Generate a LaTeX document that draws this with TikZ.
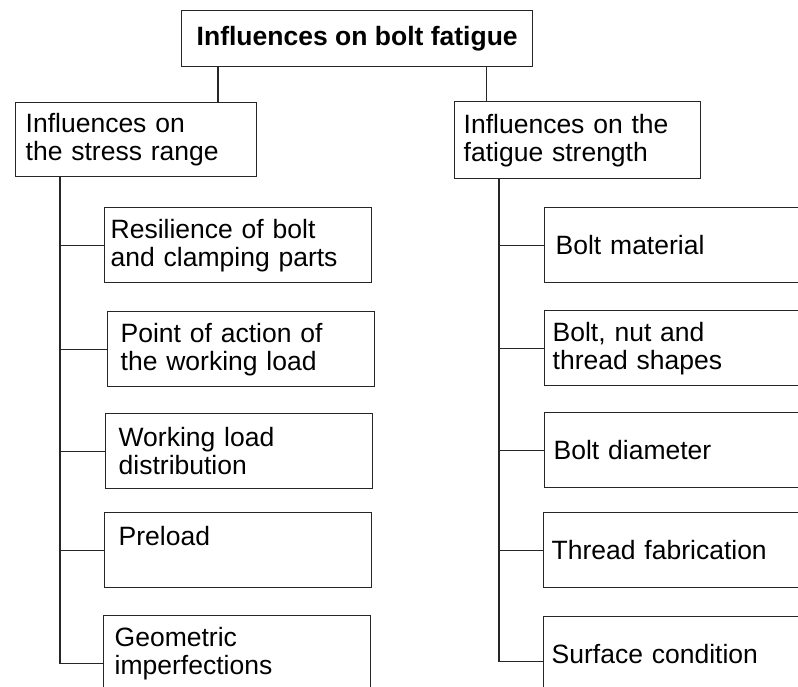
\documentclass[tikz,border=0pt]{standalone}
\usepackage{fontspec}
\setmainfont{Liberation Sans}
\usepackage{tikz}

\tikzset{
  boxline/.style={draw=black!85, line width=1.4pt},
  wire/.style={draw=black!85, line width=1.3pt},
  infbox/.style={boxline, anchor=north west, align=left, inner ysep=0pt,
    inner xsep=#1, text width=267pt-2*#1, minimum height=75pt},
}

\begin{document}
\begin{tikzpicture}[x=1pt, y=-1pt, font=\fontsize{26.5}{28}\selectfont]
		\useasboundingbox (0,0) rectangle (798,686);
		\clip (0,0) rectangle (798,686);

		\node[boxline, anchor=north west, minimum width=351pt, minimum height=56pt]
			(top) at (181,10) {\textbf{Influences on bolt fatigue}};

		\node[boxline, anchor=north west, align=left, inner xsep=10pt, inner ysep=0pt,
			text width=221pt, minimum height=74pt]
			(lmid) at (15,102) {Influences on\\the stress range};
		\node[boxline, anchor=north west, align=left, inner xsep=9pt, inner ysep=0pt,
			text width=228pt, minimum height=77pt]
			(rmid) at (454,101) {Influences on the\\fatigue strength};

		\node[infbox=6pt]  (r1) at (104,207) {Resilience of bolt\\and clamping parts};
		\node[infbox=13pt] (r2) at (107,311) {Point of action of\\the working load};
		\node[infbox=13pt] (r3) at (105,413) {Working load\\distribution};
		\node[infbox=14pt] (r4) at (104,512) {Preload\\\mbox{}};
		\node[infbox=11pt] (r5) at (103,615) {Geometric\\imperfections};

		\node[infbox=11pt] (s1) at (544,207) {Bolt material};
		\node[infbox=8pt]  (s2) at (544,310) {Bolt, nut and\\thread shapes};
		\node[infbox=9pt]  (s3) at (544,412) {Bolt diameter};
		\node[infbox=8pt]  (s4) at (543,512) {Thread fabrication};
		\node[infbox=8pt]  (s5) at (543,616) {Surface condition};

		\draw[wire] ([xshift=37pt]top.south west) coordinate (tl) -- (tl |- lmid.north);
		\draw[wire] ([xshift=-47pt]top.south east) coordinate (tr) -- (tr |- rmid.north);

		\draw[wire] ([xshift=45pt]lmid.south west) coordinate (lt) |- ([yshift=-10pt]r5.west);
		\foreach \n in {r1,r2,r3,r4}
			\draw[wire] (\n.west) -- (\n.west -| lt);

		\draw[wire] ([xshift=45pt]rmid.south west) coordinate (rt) |- ([yshift=-7pt]s5.west);
		\foreach \n in {s1,s2,s3,s4}
			\draw[wire] (\n.west) -- (\n.west -| rt);
	\end{tikzpicture}
\end{document}
